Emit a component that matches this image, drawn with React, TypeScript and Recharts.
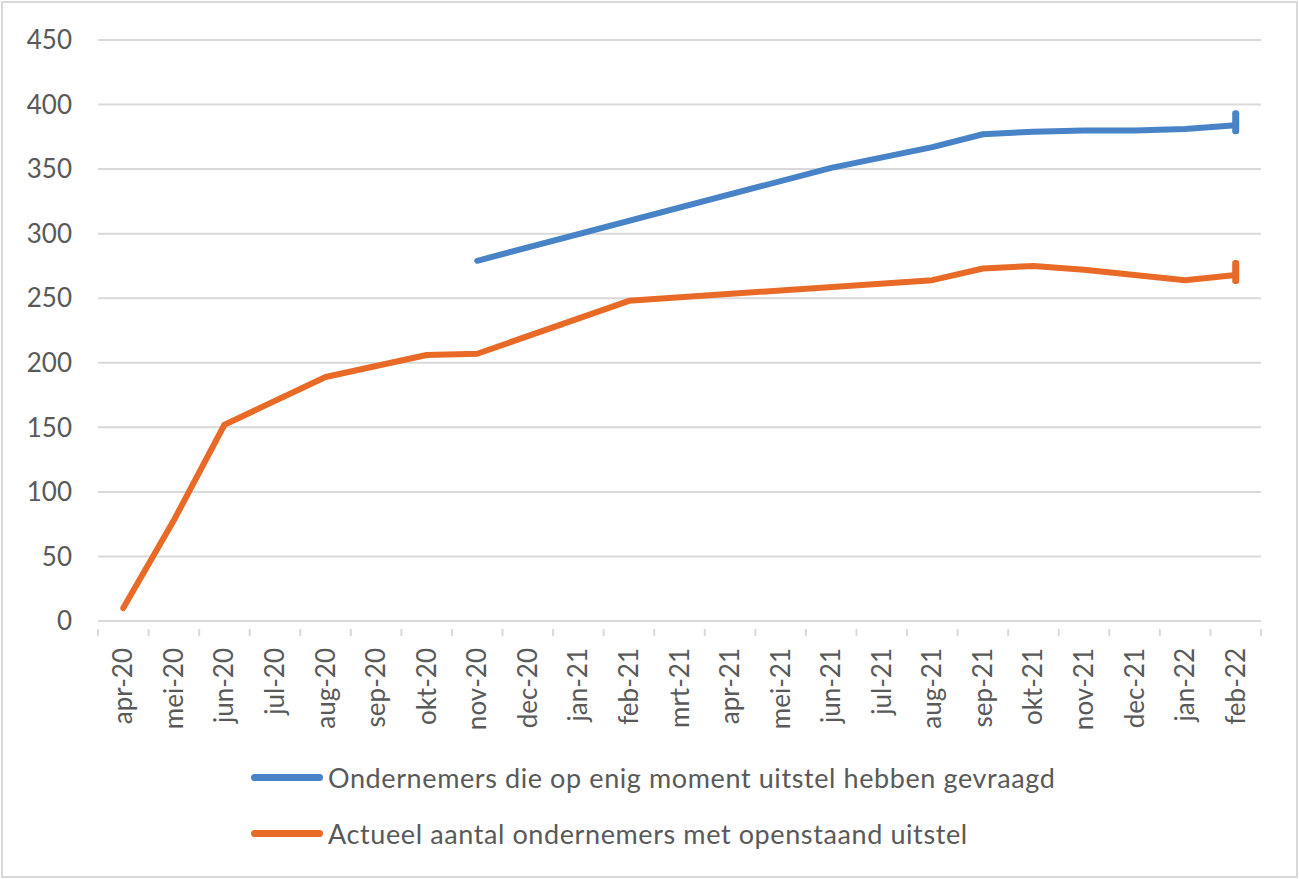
import React from "react";
import { LineChart, Line, XAxis, YAxis, CartesianGrid } from "recharts";

const months = [
  "apr-20", "mei-20", "jun-20", "jul-20", "aug-20", "sep-20", "okt-20", "nov-20",
  "dec-20", "jan-21", "feb-21", "mrt-21", "apr-21", "mei-21", "jun-21", "jul-21",
  "aug-21", "sep-21", "okt-21", "nov-21", "dec-21", "jan-22", "feb-22",
];

const gevraagd: (number | null)[] = [
  null, null, null, null, null, null, null, 279,
  null, null, null, null, null, null, 351, null,
  367, 377, 379, 380, 380, 381, 384,
];

const openstaand: (number | null)[] = [
  10, 78, 152, null, 189, null, 206, 207,
  null, null, 248, null, null, null, null, null,
  264, 273, 275, 272, 268, 264, 268,
];

const yTicks = [0, 50, 100, 150, 200, 250, 300, 350, 400, 450];

const seriesNames = [
  "Ondernemers die op enig moment uitstel hebben gevraagd",
  "Actueel aantal ondernemers met openstaand uitstel",
];

const BLUE = "#4783c6";
const ORANGE = "#e86a26";
const GRID = "#d9d9d9";
const TEXT = "#595959";
const FONT = "Lato, 'Open Sans', sans-serif";

const data = months.map((m, i) => ({
  month: m,
  gevraagd: gevraagd[i],
  openstaand: openstaand[i],
}));

const W = 1299;
const H = 879;
const M_TOP = 40;
const M_RIGHT = 38;
const Y_W = 98;
const X_H = 258;
const BAND = (W - Y_W - M_RIGHT) / months.length;

const XTick = (props: any) => {
  const { x, y, payload, index } = props;
  const left = x - BAND / 2;
  const right = x + BAND / 2;
  const axisY = y;
  return (
    <g>
      <line x1={left} y1={axisY} x2={left} y2={axisY + 7} stroke={GRID} strokeWidth={2} />
      {index === months.length - 1 && (
        <line x1={right} y1={axisY} x2={right} y2={axisY + 7} stroke={GRID} strokeWidth={2} />
      )}
      <text
        x={x}
        y={axisY + 19}
        dy={9}
        transform={`rotate(-90, ${x}, ${axisY + 19})`}
        textAnchor="end"
        fill={TEXT}
        fontSize={26}
        fontFamily={FONT}
      >
        {payload.value}
      </text>
    </g>
  );
};

const endDot = (color: string) => (props: any) => {
  const { cx, cy, index } = props;
  if (index !== months.length - 1 || cy == null) return <g key={`d${index}`} />;
  return (
    <rect key={`d${index}`} x={cx - 3.5} y={cy - 15} width={7} height={24} rx={3} fill={color} />
  );
};

export default function App() {
  return (
    <div style={{ position: "absolute", left: 0, top: 0, width: W, height: H, background: "#fff" }}>
      <div
        style={{
          position: "absolute",
          left: 1,
          top: 1,
          width: W - 2,
          height: H - 2,
          border: "2px solid #d9d9d9",
          boxSizing: "border-box",
        }}
      />
      <div style={{ position: "absolute", left: 0, top: 0 }}>
        <LineChart width={W} height={H} data={data} margin={{ top: M_TOP, right: M_RIGHT, bottom: 0, left: 0 }}>
          <CartesianGrid horizontal vertical={false} stroke={GRID} strokeWidth={2} />
          <XAxis
            dataKey="month"
            height={X_H}
            interval={0}
            padding={{ left: BAND / 2, right: BAND / 2 }}
            axisLine={{ stroke: GRID, strokeWidth: 2 }}
            tickLine={false}
            tick={<XTick />}
          />
          <YAxis
            width={Y_W}
            domain={[0, 450]}
            ticks={yTicks}
            axisLine={false}
            tickLine={false}
            tickSize={0}
            tickMargin={26}
            tick={{ fill: TEXT, fontSize: 26, fontFamily: FONT }}
          />
          <Line
            type="linear"
            dataKey="gevraagd"
            stroke={BLUE}
            strokeWidth={6}
            strokeLinecap="round"
            strokeLinejoin="round"
            connectNulls
            dot={endDot(BLUE)}
            activeDot={false}
            isAnimationActive={false}
          />
          <Line
            type="linear"
            dataKey="openstaand"
            stroke={ORANGE}
            strokeWidth={6}
            strokeLinecap="round"
            strokeLinejoin="round"
            connectNulls
            dot={endDot(ORANGE)}
            activeDot={false}
            isAnimationActive={false}
          />
        </LineChart>
      </div>
      {seriesNames.map((name, i) => (
        <div
          key={name}
          style={{
            position: "absolute",
            left: 251,
            top: i === 0 ? 760 : 816,
            height: 34,
            display: "flex",
            alignItems: "center",
            fontFamily: FONT,
            fontSize: 27,
            letterSpacing: 0.6,
            color: TEXT,
            whiteSpace: "nowrap",
          }}
        >
          <div
            style={{
              width: 72,
              height: 7,
              borderRadius: 4,
              background: i === 0 ? BLUE : ORANGE,
              marginRight: 5,
            }}
          />
          <span>{name}</span>
        </div>
      ))}
    </div>
  );
}
